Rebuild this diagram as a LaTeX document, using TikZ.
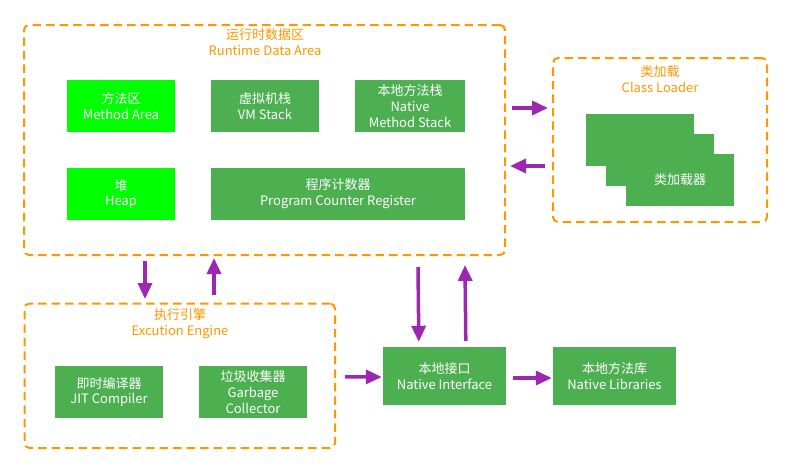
\documentclass[tikz,border=0pt]{standalone}
\usepackage{fontspec}
\setmainfont{Noto Sans CJK SC}
\usetikzlibrary{arrows.meta}
\definecolor{boxgreen}{HTML}{4CAF50}
\definecolor{litegreen}{HTML}{00FF00}
\definecolor{orng}{HTML}{FF9800}
\definecolor{purp}{HTML}{9C27B0}
\begin{document}
\begin{tikzpicture}[x=1pt,y=-1pt,
  every node/.style={font=\fontsize{13}{15.8}\selectfont, align=center, inner sep=0pt},
  area/.style={draw=orng, line width=2pt, dash pattern=on 8.5pt off 5pt, rounded corners=5pt, rectangle},
  title/.style={text=orng},
  gbox/.style={fill=boxgreen, text=white, minimum width=108pt, minimum height=52pt},
  lbox/.style={fill=litegreen, text=white, minimum width=108pt, minimum height=52pt},
  arr/.style={draw=purp, line width=3.5pt, -{Triangle[width=14pt,length=16pt]}}
]
\useasboundingbox (0,0) rectangle (791,474);
\fill[white] (0,0) rectangle (791,474);

% containers
\node[area, minimum width=481pt, minimum height=230pt] (rda) at (264.5,140) {};
\node[title] (rdat) at (265,42) {运行时数据区\\Runtime Data Area};
\node[area, minimum width=214pt, minimum height=164pt] (cl) at (660,140) {};
\node[title] (clt) at (660,79) {类加载\\Class Loader};
\node[area, minimum width=310.5pt, minimum height=144.5pt] (ee) at (179.75,375.75) {};
\node[title] (eet) at (180,323.5) {执行引擎\\Excution Engine};

% runtime data area
\node[lbox] (ma) at (121,106) {方法区\\Method Area};
\node[gbox] (vm) at (265,106) {虚拟机栈\\VM Stack};
\node[gbox, minimum width=110pt] (nms) at (410,106) {本地方法栈\\Native\\Method Stack};
\node[lbox] (heap) at (121,194) {堆\\Heap};
\node[gbox, minimum width=254pt] (pcr) at (338,194) {程序计数器\\Program Counter Register};

% class loader stack
\node[gbox] (cla) at (640,140) {};
\node[gbox] (clb) at (660,160) {};
\node[gbox] (clc) at (680,180) {类加载器};

% execution engine
\node[gbox] (jit) at (109,392) {即时编译器\\JIT Compiler};
\node[gbox] (gc) at (253,392) {垃圾收集器\\Garbage\\Collector};

% native
\node[gbox, minimum width=123pt, minimum height=58pt] (ni) at (444.5,376) {本地接口\\Native Interface};
\node[gbox, minimum width=123pt, minimum height=58pt] (nl) at (614.5,376) {本地方法库\\Native Libraries};

% arrows
\draw[arr] ([xshift=122pt,yshift=-5pt]rda.south west) -- ([xshift=121.5pt,yshift=3.5pt]ee.north west);
\draw[arr] ([xshift=190.5pt,yshift=7.5pt]ee.north west) -- ([xshift=191pt,yshift=-2pt]rda.south west);
\draw[arr] ([xshift=395pt,yshift=-11pt]rda.south west) -- ([xshift=36pt,yshift=5pt]ni.north west);
\draw[arr] ([xshift=83pt,yshift=6pt]ni.north west) -- ([xshift=442pt,yshift=-9pt]rda.south west);
\draw[arr] ([xshift=6pt,yshift=-84pt]rda.north east) -- ([xshift=-4pt,yshift=-51pt]cl.north west);
\draw[arr] ([xshift=-7pt,yshift=-109pt]cl.north west) -- ([xshift=4pt,yshift=-142pt]rda.north east);
\draw[arr] ([xshift=9pt,yshift=-1pt]ee.east) -- ([xshift=-1pt,yshift=-1pt]ni.west);
\draw[arr] ([xshift=7pt,yshift=-2pt]ni.east) -- ([xshift=-1pt,yshift=-2pt]nl.west);
\end{tikzpicture}
\end{document}
